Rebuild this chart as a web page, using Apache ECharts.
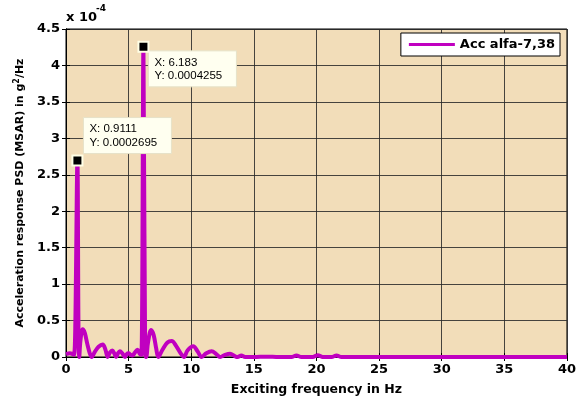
<!DOCTYPE html>
<html>
<head>
<meta charset="utf-8">
<script src="https://cdn.jsdelivr.net/npm/echarts@6/dist/echarts.min.js"></script>
<style>
  html, body { margin: 0; padding: 0; background: #ffffff; }
  #chart { width: 579px; height: 401px; }
</style>
</head>
<body>
<div id="chart"></div>
<script>
// Exciting frequency (Hz)
const freq = [
  0, 0.3, 0.55, 0.64, 0.74, 0.9111, 1.0, 1.06,
  1.15, 1.33, 1.5, 1.7, 1.9, 2.05,
  2.3, 2.6, 2.93, 3.15, 3.33,
  3.5, 3.7, 3.85, 4.0,
  4.15, 4.3, 4.5, 4.7,
  4.85, 5.0, 5.15, 5.3,
  5.5, 5.7, 5.9, 6.02, 6.183, 6.32, 6.4,
  6.55, 6.8, 7.0, 7.2, 7.37,
  7.7, 8.1, 8.44, 8.8, 9.2, 9.42,
  9.7, 10.16, 10.5, 10.83,
  11.2, 11.63, 12.0, 12.3,
  12.7, 13.1, 13.5, 13.7, 14.0, 14.3,
  15, 16, 17, 18, 18.4, 18.8, 19.7, 20.1, 20.5, 21.2, 21.6, 22,
  25, 30, 35, 40
];
// Acceleration response PSD (g^2/Hz)
const psd = [
  0.04e-4, 0.05e-4, 0.04e-4, 0.03e-4, 0.4e-4, 2.695e-4, 0.3e-4, 0.0,
  0.22e-4, 0.38e-4, 0.33e-4, 0.18e-4, 0.05e-4, 0.0,
  0.07e-4, 0.14e-4, 0.17e-4, 0.1e-4, 0.0,
  0.06e-4, 0.09e-4, 0.05e-4, 0.0,
  0.05e-4, 0.08e-4, 0.05e-4, 0.0,
  0.04e-4, 0.05e-4, 0.03e-4, 0.02e-4,
  0.06e-4, 0.1e-4, 0.04e-4, 0.03e-4, 4.255e-4, 0.03e-4, 0.0,
  0.2e-4, 0.37e-4, 0.3e-4, 0.12e-4, 0.0,
  0.1e-4, 0.2e-4, 0.22e-4, 0.15e-4, 0.04e-4, 0.0,
  0.09e-4, 0.146e-4, 0.08e-4, 0.0,
  0.05e-4, 0.078e-4, 0.04e-4, 0.0,
  0.03e-4, 0.045e-4, 0.01e-4, 0.0, 0.02e-4, 0.0,
  0.0, 0.005e-4, 0.0, 0.0, 0.02e-4, 0.0, 0.0, 0.025e-4, 0.0, 0.0, 0.02e-4, 0.0,
  0.0, 0.0, 0.0, 0.0
];
// Data tips placed on the two resonance peaks
const tipFreq = [0.9111, 6.183];
const tipPsd = [2.695e-4, 4.255e-4];
const xTicks = [0, 5, 10, 15, 20, 25, 30, 35, 40];
const yTicks = [0, 0.5, 1, 1.5, 2, 2.5, 3, 3.5, 4, 4.5]; // in units of 1e-4
const seriesName = 'Acc alfa-7,38';

const chart = echarts.init(document.getElementById('chart'), null, { renderer: 'canvas' });

const lineColor = '#C000C0';
const gridColor = 'rgba(40,40,40,0.85)';
const labelFont = { fontFamily: 'DejaVu Sans', fontWeight: 'bold', fontSize: 13, color: '#000' };

const data = freq.map((f, i) => [f, psd[i]]);
const yScale = 1e-4;

const option = {
  backgroundColor: '#ffffff',
  animation: false,
  grid: {
    left: 66, right: 12, top: 29, bottom: 43,
    show: true, backgroundColor: '#F2DDB9', borderColor: '#000', borderWidth: 1
  },
  legend: {
    show: true,
    right: 19, top: 33,
    orient: 'horizontal',
    backgroundColor: '#ffffff',
    borderColor: '#000', borderWidth: 1,
    padding: [5, 5, 5, 8],
    itemWidth: 46, itemHeight: 3, itemGap: 6,
    icon: 'rect',
    textStyle: { fontFamily: 'DejaVu Sans', fontWeight: 'bold', fontSize: 13, color: '#000' },
    data: [seriesName]
  },
  xAxis: [{
    type: 'value', min: xTicks[0], max: xTicks[xTicks.length - 1], interval: 5,
    name: 'Exciting frequency in Hz', nameLocation: 'middle', nameGap: 26,
    nameTextStyle: { fontFamily: 'DejaVu Sans', fontWeight: 'bold', fontSize: 12.5, color: '#000' },
    axisLine: { show: true, lineStyle: { color: '#000', width: 1 } },
    axisTick: { show: true, inside: true, length: 4, lineStyle: { color: '#000' } },
    axisLabel: Object.assign({ margin: 6, formatter: v => String(v) }, labelFont),
    splitLine: { show: true, lineStyle: { color: gridColor, width: 1 } }
  }, {
    type: 'value', position: 'top', min: xTicks[0], max: xTicks[xTicks.length - 1], interval: 5,
    axisLine: { show: true, lineStyle: { color: '#000' } },
    axisTick: { show: true, inside: true, length: 4, lineStyle: { color: '#000' } },
    axisLabel: { show: false }, splitLine: { show: false }
  }],
  yAxis: [{
    type: 'value', min: 0, max: yTicks[yTicks.length - 1] * yScale, interval: 0.5 * yScale,
    name: 'Acceleration response PSD (MSAR) in g{sup|2}/Hz',
    nameLocation: 'middle', nameGap: 38, nameRotate: 90,
    nameTextStyle: {
      fontFamily: 'DejaVu Sans', fontWeight: 'bold', fontSize: 11, color: '#000',
      rich: {
        sup: { fontFamily: 'DejaVu Sans', fontWeight: 'bold', fontSize: 8, color: '#000', verticalAlign: 'top', padding: [0, 0, 7, 0] }
      }
    },
    axisLine: { show: true, lineStyle: { color: '#000', width: 1 } },
    axisTick: { show: true, inside: true, length: 4, lineStyle: { color: '#000' } },
    axisLabel: Object.assign({
      margin: 6,
      formatter: v => String(Math.round(v / yScale * 10) / 10)
    }, labelFont),
    splitLine: { show: true, lineStyle: { color: gridColor, width: 1 } }
  }, {
    type: 'value', position: 'right', min: 0, max: yTicks[yTicks.length - 1] * yScale, interval: 0.5 * yScale,
    axisLine: { show: true, lineStyle: { color: '#000' } },
    axisTick: { show: true, inside: true, length: 4, lineStyle: { color: '#000' } },
    axisLabel: { show: false }, splitLine: { show: false }
  }],
  series: [{
    name: seriesName,
    type: 'line',
    data: data,
    showSymbol: false,
    symbol: 'none',
    smooth: 0.35,
    lineStyle: { color: lineColor, width: 4, join: 'round' },
    itemStyle: { color: lineColor },
    z: 3
  }]
};

chart.setOption(option);

// Scale multiplier shown above the y axis, and the data tips
function buildGraphics() {
  const elements = [
    { type: 'text', left: 66, top: 11, style: { text: 'x 10', font: 'bold 13px "DejaVu Sans"', fill: '#000' } },
    { type: 'text', left: 96, top: 4, style: { text: '-4', font: 'bold 9px "DejaVu Sans"', fill: '#000' } }
  ];
  const boxOffsets = [[6, -43], [5, 4]];
  tipFreq.forEach((f, i) => {
    const p = chart.convertToPixel({ xAxisIndex: 0, yAxisIndex: 0 }, [f, tipPsd[i]]);
    const bx = p[0] + boxOffsets[i][0];
    const by = p[1] + boxOffsets[i][1];
    elements.push({
      type: 'rect', z: 20,
      shape: { x: bx, y: by, width: 88, height: 36 },
      style: { fill: '#FFFFF0', stroke: '#E6E2C8', lineWidth: 1 }
    });
    elements.push({
      type: 'text', z: 21,
      x: bx + 6, y: by + 5,
      style: {
        text: 'X: ' + f + '\nY: ' + tipPsd[i].toFixed(7),
        font: '11.5px "Liberation Sans"', fill: '#000', lineHeight: 13.5
      }
    });
    elements.push({
      type: 'rect', z: 22,
      shape: { x: p[0] - 5, y: p[1] - 5, width: 10, height: 10 },
      style: { fill: '#000', stroke: '#FFFFE6', lineWidth: 2 }
    });
  });
  chart.setOption({ graphic: elements });
}
buildGraphics();
</script>
</body>
</html>
